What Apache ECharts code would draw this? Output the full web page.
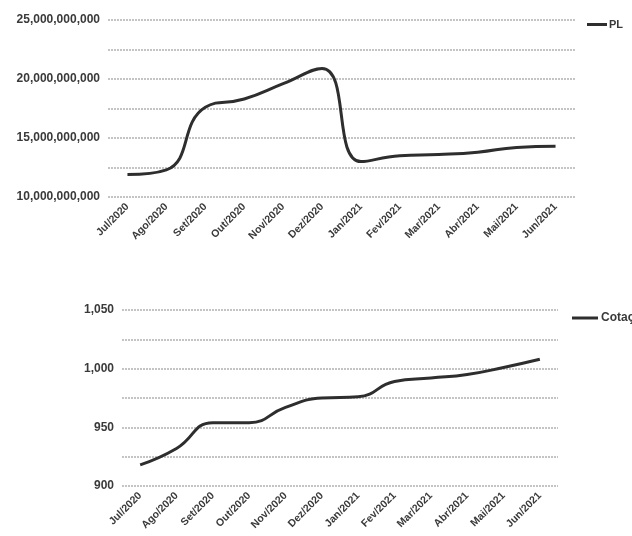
<!DOCTYPE html>
<html><head><meta charset="utf-8">
<script src="https://cdn.jsdelivr.net/npm/echarts@6/dist/echarts.min.js"></script>
<style>html,body{margin:0;padding:0;background:#fff}#c{width:632px;height:536px}</style>
</head><body><div id="c"></div>
<script>
const categories = ['Jul/2020','Ago/2020','Set/2020','Out/2020','Nov/2020','Dez/2020','Jan/2021','Fev/2021','Mar/2021','Abr/2021','Mai/2021','Jun/2021'];
const plValues = [11.9e9, 12.3e9, 17.6e9, 18.3e9, 19.6e9, 20.9e9, 13.0e9, 13.5e9, 13.6e9, 13.8e9, 14.2e9, 14.3e9];
const cotacaoValues = [918, 932, 954, 954, 967, 975, 976, 989, 992, 995, 1001, 1008];
const plTicks = [10e9, 15e9, 20e9, 25e9];
const cotacaoTicks = [900, 950, 1000, 1050];

const txt = '#3a3a3a';
const font = 'Liberation Sans';
const fmt = v => v.toLocaleString('en-US');
function xAxis(gi){
  return {type:'category', gridIndex:gi, data:categories, boundaryGap:true,
    axisLine:{show:false}, axisTick:{show:false},
    axisLabel:{rotate:45, interval:0, color:txt, fontFamily:font, fontWeight:'bold', fontSize:10.5, margin:8}};
}
function yAxis(gi,min,max,interval,ticks){
  return {type:'value', gridIndex:gi, min:min, max:max, interval:interval,
    axisLine:{show:false}, axisTick:{show:false},
    splitLine:{show:true, lineStyle:{color:'#c4c4c4', width:2, type:[2,1]}},
    axisLabel:{color:txt, fontFamily:font, fontWeight:'bold', fontSize:12, margin:8,
      formatter: v => ticks.includes(v) ? fmt(v) : ''}};
}
const chart = echarts.init(document.getElementById('c'));
chart.setOption({
  animation:false,
  textStyle:{fontFamily:font},
  grid:[{left:108, right:57, top:20, height:177}, {left:122, right:74, top:310, height:176}],
  xAxis:[xAxis(0), xAxis(1)],
  yAxis:[yAxis(0,10e9,25e9,2.5e9,plTicks), yAxis(1,900,1050,25,cotacaoTicks)],
  legend:[
    {data:['PL'], left:582, top:14, icon:'rect', itemWidth:20, itemHeight:3, itemGap:2,
     textStyle:{color:txt, fontWeight:'bold', fontSize:11, fontFamily:font, padding:[0,0,0,-3]}},
    {data:['Cotação'], left:567, top:307, icon:'rect', itemWidth:26, itemHeight:3,
     textStyle:{color:txt, fontWeight:'bold', fontSize:12, fontFamily:font, padding:[0,0,0,-2]}}
  ],
  series:[
    {name:'PL', type:'line', xAxisIndex:0, yAxisIndex:0, data:plValues, smooth:0.5, symbol:'none',
     lineStyle:{color:'#2e2e2e', width:3}, itemStyle:{color:'#2e2e2e'}},
    {name:'Cotação', type:'line', xAxisIndex:1, yAxisIndex:1, data:cotacaoValues, smooth:0.5, symbol:'none',
     lineStyle:{color:'#2e2e2e', width:3}, itemStyle:{color:'#2e2e2e'}}
  ]
});
</script></body></html>
